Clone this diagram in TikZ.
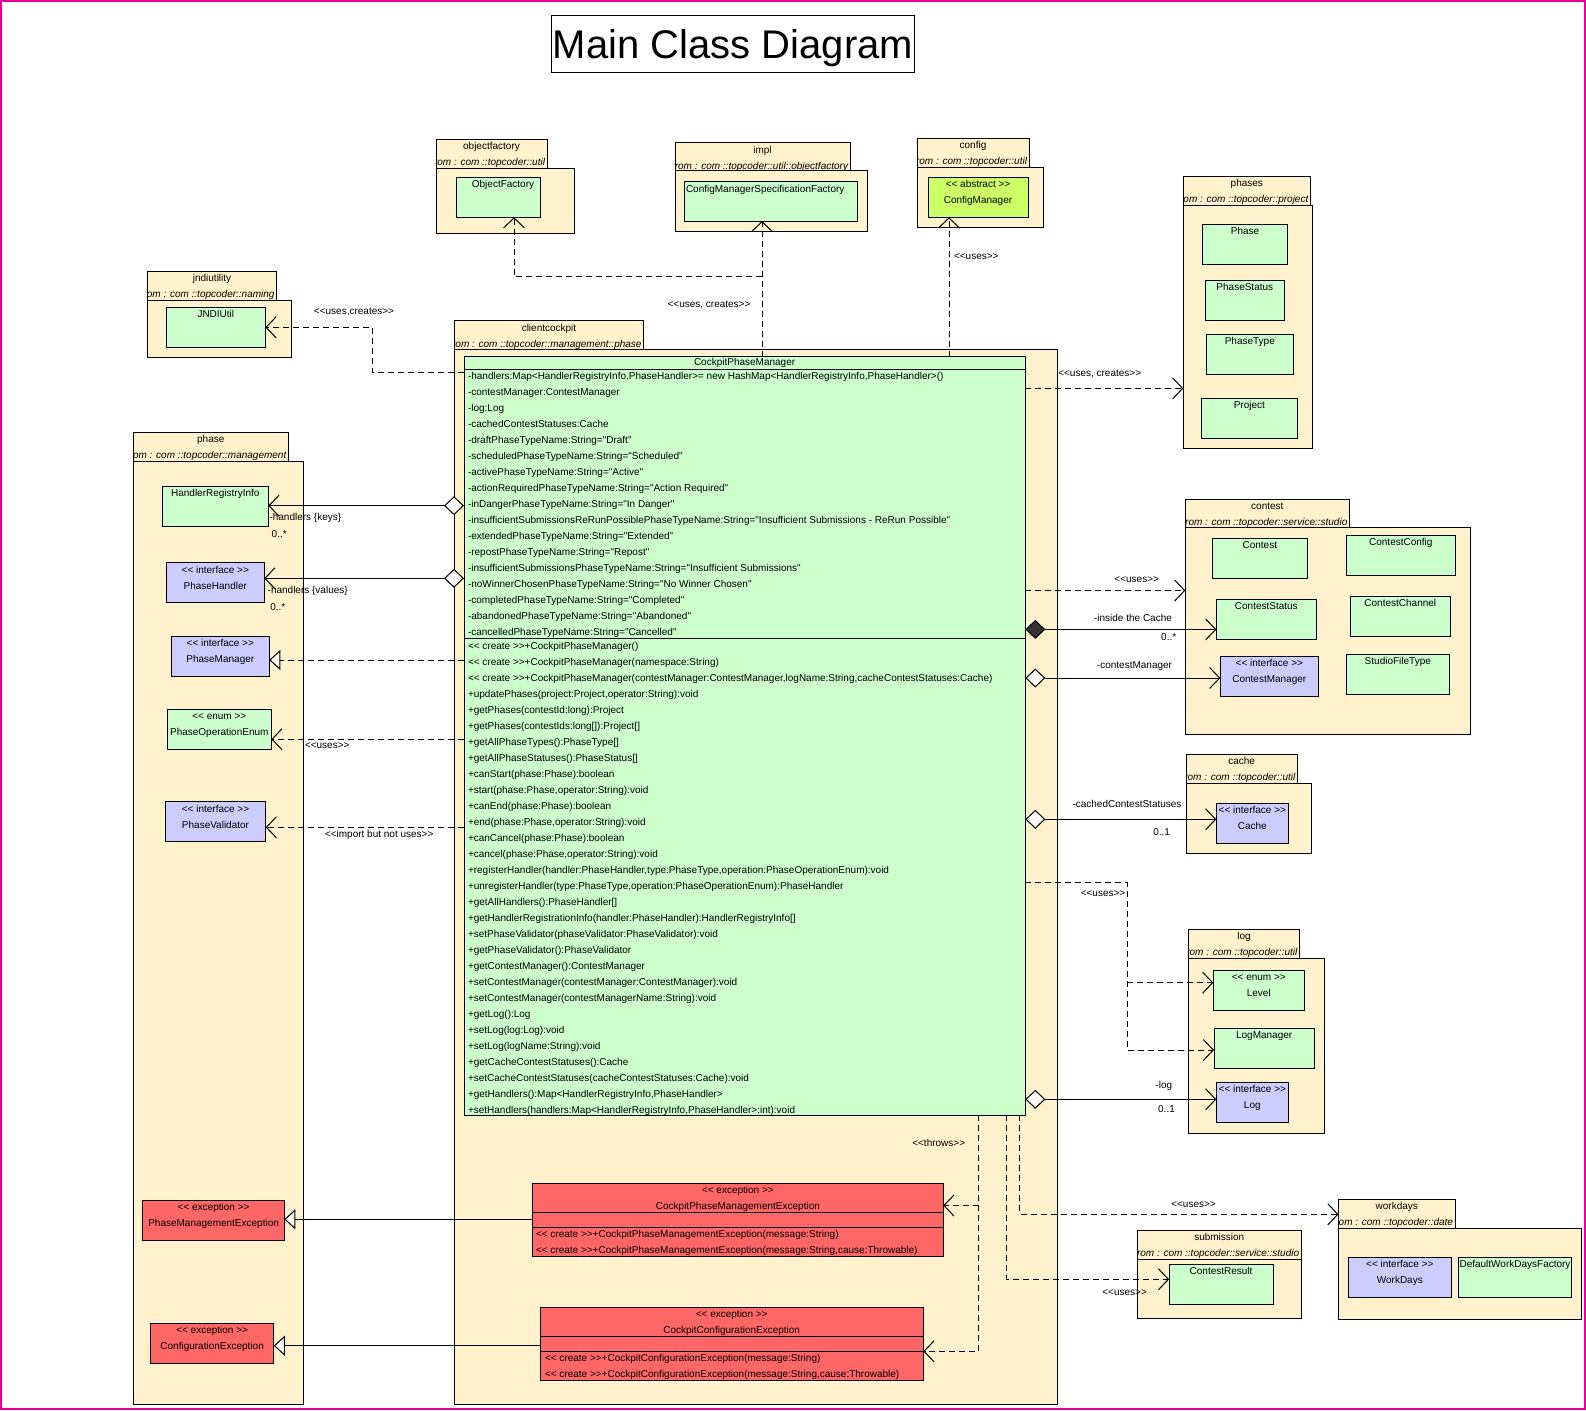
\documentclass[tikz,border=0pt]{standalone}
\usepackage{fontspec}
\newfontfamily\umlfont{Liberation Sans}
\usetikzlibrary{arrows.meta}
\definecolor{pkgc}{RGB}{255,242,204}
\definecolor{clsc}{RGB}{204,255,204}
\definecolor{ifcc}{RGB}{204,204,255}
\definecolor{excc}{RGB}{255,102,102}
\definecolor{absc}{RGB}{204,255,102}
\definecolor{framec}{RGB}{230,0,150}
\tikzset{
  every node/.style={font=\umlfont\fontsize{10}{12}\selectfont, inner sep=0pt, outer sep=0pt},
  txt/.style={text height=7.5pt, text depth=1.5pt},
  itxt/.style={txt, font=\umlfont\itshape\fontsize{10}{12}\selectfont},
  box/.style={draw=black, line width=1pt, inner sep=0pt, outer sep=0pt},
  pkgbox/.style={box, fill=pkgc},
  clsbox/.style={box, fill=clsc},
  ifcbox/.style={box, fill=ifcc},
  excbox/.style={box, fill=excc},
  absbox/.style={box, fill=absc},
  conn/.style={line width=1pt},
  dline/.style={conn, dash pattern=on 6pt off 4pt},
  dep/.style={dline, -{Straight Barb[length=10pt,width=21pt]}},
  agg/.style={conn, {Diamond[length=20pt,width=19pt,fill=white]}-{Straight Barb[length=10pt,width=21pt]}},
  comp/.style={conn, {Diamond[length=20pt,width=19pt,fill=black!80]}-{Straight Barb[length=10pt,width=21pt]}},
  real/.style={dline, -{Triangle[length=11pt,width=20pt,fill=white]}},
  gen/.style={conn, -{Triangle[length=11pt,width=20pt,fill=white]}},
}
% package: name, x1, tab top, tab x2, body top, body x2, body bottom, title, from
\newcommand\umlpkg[9]{%
  \node[pkgbox, anchor=north west, minimum width={#4-#2}, minimum height={#5-#3}] (#1tab) at (#2,#3) {};
  \node[pkgbox, anchor=north west, minimum width={#6-#2}, minimum height={#7-#5}] (#1) at (#2,#5) {};
  \node[txt] (#1title) at ({(#2+#4)/2},{#3+7.5}) {#8};
  \begin{scope}
    \clip (#2+0.5,#3) rectangle (#4-0.5,#5);
    \node[itxt, anchor=east] (#1from) at ({#4-2},{#3+23.5}) {#9};
  \end{scope}
}
% class with name only: style, name, x1, y1, x2, y2, text
\newcommand\umlcls[7]{%
  \node[#1, anchor=north west, minimum width={#5-#3}, minimum height={#6-#4}] (#2) at (#3,#4) {};
  \node[txt] (#2name) at ({(#3+#5)/2},{#4+7.3}) {#7};
}
% class with stereotype
\newcommand\umlscls[8]{%
  \node[#1, anchor=north west, minimum width={#5-#3}, minimum height={#6-#4}] (#2) at (#3,#4) {};
  \node[txt] (#2st) at ({(#3+#5)/2},{#4+7.3}) {#7};
  \node[txt] (#2name) at ({(#3+#5)/2},{#4+23.3}) {#8};
}
\newcounter{umllbl}
\newcommand\umllbl[3]{\stepcounter{umllbl}\node[txt] (lbl\arabic{umllbl}) at (#1,#2) {#3};}
\newcommand\umllblw[3]{\stepcounter{umllbl}\node[txt, anchor=west] (lbl\arabic{umllbl}) at (#1,#2) {#3};}
\begin{document}
\begin{tikzpicture}[x=1pt,y=-1pt]
\useasboundingbox (0,0) rectangle (1586,1410);
\fill[white] (0,0) rectangle (1586,1410);
\draw[framec, line width=2pt] (1,1) rectangle (1585,1409);

% title
\node[draw=black, line width=1pt, anchor=north west, minimum width=362.6pt, minimum height=56.7pt] (titlebox) at (551.7,16) {};
\node[font=\umlfont\fontsize{40}{44}\selectfont, text height=29pt, text depth=0pt] (title) at (titlebox.center) {Main Class Diagram};

% packages
\umlpkg{pof}{436}{139.3}{547}{168}{574}{233.3}{objectfactory}{from : com ::topcoder::util}
\umlpkg{pimpl}{675}{142.7}{850}{170.7}{867}{231}{impl}{from : com ::topcoder::util::objectfactory}
\umlpkg{pcfg}{917}{138.3}{1029}{167.3}{1043}{227.7}{config}{from : com ::topcoder::util}
\umlpkg{pjndi}{147.6}{271.3}{276.5}{300}{291}{357.3}{jndiutility}{from : com ::topcoder::naming}
\umlpkg{pcc}{454.5}{320.7}{643.5}{349}{1057.3}{1404}{clientcockpit}{from : com ::topcoder::management::phase}
\umlpkg{pph}{133.3}{432.3}{288.3}{461}{303.5}{1404}{phase}{from : com ::topcoder::management}
\umlpkg{pphs}{1183.3}{176.1}{1310.3}{205.2}{1312.3}{448.2}{phases}{from : com ::topcoder::project}
\umlpkg{pcon}{1185.3}{499.2}{1349.3}{527.6}{1470.6}{734}{contest}{from : com ::topcoder::service::studio}
\umlpkg{pcache}{1186}{754.3}{1297.3}{783.3}{1311.3}{853.3}{cache}{from : com ::topcoder::util}
\umlpkg{plog}{1188.7}{929.3}{1299.3}{958}{1324}{1133.8}{log}{from : com ::topcoder::util}
\umlpkg{psub}{1137.4}{1230.3}{1301.1}{1259}{1301.1}{1318}{submission}{from : com ::topcoder::service::studio}
\umlpkg{pwd}{1338.5}{1199}{1455}{1228}{1581}{1319}{workdays}{from : com ::topcoder::date}

% classes
\node[clsbox, anchor=north west, minimum width=84pt, minimum height=40pt] (of) at (456,177.3) {};
\node[txt] (ofname) at (503,184.8) {ObjectFactory};
\node[clsbox, anchor=north west, minimum width=172.5pt, minimum height=40pt] (cmsf) at (684.5,181) {};
\node[txt, anchor=west] (cmsfname) at (686,189.3) {ConfigManagerSpecificationFactory};
\umlscls{absbox}{cfgm}{928}{177.3}{1028}{217.3}{<< abstract >>}{ConfigManager}
\umlcls{clsbox}{jndi}{166.3}{307.3}{265.4}{347.3}{JNDIUtil}
\umlcls{clsbox}{hri}{162.3}{486.3}{268.3}{526.3}{HandlerRegistryInfo}
\umlscls{ifcbox}{phh}{166.3}{562.7}{264.3}{602.3}{<< interface >>}{PhaseHandler}
\umlscls{ifcbox}{phm}{171.3}{636.3}{269.3}{676.3}{<< interface >>}{PhaseManager}
\umlscls{clsbox}{poe}{167.3}{709.3}{271.3}{749.3}{<< enum >>}{PhaseOperationEnum}
\umlscls{ifcbox}{phv}{165.3}{801.7}{265.7}{841.7}{<< interface >>}{PhaseValidator}
\umlscls{excbox}{pme}{142.9}{1200.3}{284.3}{1240.3}{<< exception >>}{PhaseManagementException}
\umlscls{excbox}{ce}{150.5}{1323.3}{273.8}{1363.3}{<< exception >>}{ConfigurationException}
\umlcls{clsbox}{ph}{1202.3}{224.4}{1287.7}{264.3}{Phase}
\umlcls{clsbox}{phst}{1205.3}{280.2}{1284.3}{320.4}{PhaseStatus}
\umlcls{clsbox}{phty}{1206.3}{334.3}{1293.3}{374.2}{PhaseType}
\umlcls{clsbox}{proj}{1201.3}{398.5}{1297.3}{438.4}{Project}
\umlcls{clsbox}{ctst}{1212.3}{538.4}{1307.3}{578.3}{Contest}
\umlcls{clsbox}{ccfg}{1346.3}{535.4}{1455.3}{575.3}{ContestConfig}
\umlcls{clsbox}{cst}{1216.3}{599.3}{1316.3}{639.2}{ContestStatus}
\umlcls{clsbox}{cch}{1350.3}{596.2}{1450.3}{636.5}{ContestChannel}
\umlscls{ifcbox}{ctm}{1220.3}{656.4}{1318.3}{696}{<< interface >>}{ContestManager}
\umlcls{clsbox}{sft}{1346.3}{654.4}{1449.3}{694.3}{StudioFileType}
\umlscls{ifcbox}{cachec}{1216.3}{803.3}{1288.3}{843.3}{<< interface >>}{Cache}
\umlscls{clsbox}{lvl}{1213.3}{970}{1304.3}{1010}{<< enum >>}{Level}
\umlcls{clsbox}{lmg}{1214}{1028.3}{1314.3}{1068.3}{LogManager}
\umlscls{ifcbox}{logc}{1216.3}{1082.3}{1288.3}{1122}{<< interface >>}{Log}
\umlcls{clsbox}{cres}{1169.1}{1264.3}{1273}{1304.3}{ContestResult}
\umlscls{ifcbox}{wd}{1348.3}{1257.3}{1451.3}{1297.3}{<< interface >>}{WorkDays}
\umlcls{clsbox}{dwdf}{1458.3}{1257.3}{1571.7}{1297.3}{DefaultWorkDaysFactory}

% CockpitPhaseManager
\node[clsbox, anchor=north west, minimum width=561.3pt, minimum height=758.6pt] (cpm) at (464,356.7) {};
\draw[conn] (cpm.west |- 0,369) -- (cpm.east |- 0,369);
\draw[conn] (cpm.west |- 0,638.3) -- (cpm.east |- 0,638.3);
\node[txt] (cpmname) at (744.6,362.8) {CockpitPhaseManager};
\foreach \t [count=\i from 0] in {
 {-handlers:Map<HandlerRegistryInfo,PhaseHandler>= new HashMap<HandlerRegistryInfo,PhaseHandler>()},
 {-contestManager:ContestManager},
 {-log:Log},
 {-cachedContestStatuses:Cache},
 {-draftPhaseTypeName:String="Draft"},
 {-scheduledPhaseTypeName:String="Scheduled"},
 {-activePhaseTypeName:String="Active"},
 {-actionRequiredPhaseTypeName:String="Action Required"},
 {-inDangerPhaseTypeName:String="In Danger"},
 {-insufficientSubmissionsReRunPossiblePhaseTypeName:String="Insufficient Submissions - ReRun Possible"},
 {-extendedPhaseTypeName:String="Extended"},
 {-repostPhaseTypeName:String="Repost"},
 {-insufficientSubmissionsPhaseTypeName:String="Insufficient Submissions"},
 {-noWinnerChosenPhaseTypeName:String="No Winner Chosen"},
 {-completedPhaseTypeName:String="Completed"},
 {-abandonedPhaseTypeName:String="Abandoned"},
 {-cancelledPhaseTypeName:String="Cancelled"}}
 { \node[txt, anchor=west] (cpma\i) at (468,{376.7+16*\i}) {\t}; }
\foreach \t [count=\i from 0] in {
 {<< create >>+CockpitPhaseManager()},
 {<< create >>+CockpitPhaseManager(namespace:String)},
 {<< create >>+CockpitPhaseManager(contestManager:ContestManager,logName:String,cacheContestStatuses:Cache)},
 {+updatePhases(project:Project,operator:String):void},
 {+getPhases(contestId:long):Project},
 {+getPhases(contestIds:long[]):Project[]},
 {+getAllPhaseTypes():PhaseType[]},
 {+getAllPhaseStatuses():PhaseStatus[]},
 {+canStart(phase:Phase):boolean},
 {+start(phase:Phase,operator:String):void},
 {+canEnd(phase:Phase):boolean},
 {+end(phase:Phase,operator:String):void},
 {+canCancel(phase:Phase):boolean},
 {+cancel(phase:Phase,operator:String):void},
 {+registerHandler(handler:PhaseHandler,type:PhaseType,operation:PhaseOperationEnum):void},
 {+unregisterHandler(type:PhaseType,operation:PhaseOperationEnum):PhaseHandler},
 {+getAllHandlers():PhaseHandler[]},
 {+getHandlerRegistrationInfo(handler:PhaseHandler):HandlerRegistryInfo[]},
 {+setPhaseValidator(phaseValidator:PhaseValidator):void},
 {+getPhaseValidator():PhaseValidator},
 {+getContestManager():ContestManager},
 {+setContestManager(contestManager:ContestManager):void},
 {+setContestManager(contestManagerName:String):void},
 {+getLog():Log},
 {+setLog(log:Log):void},
 {+setLog(logName:String):void},
 {+getCacheContestStatuses():Cache},
 {+setCacheContestStatuses(cacheContestStatuses:Cache):void},
 {+getHandlers():Map<HandlerRegistryInfo,PhaseHandler>},
 {+setHandlers(handlers:Map<HandlerRegistryInfo,PhaseHandler>:int):void}}
 { \node[txt, anchor=west] (cpmm\i) at (468,{646.3+16*\i}) {\t}; }

% exceptions in clientcockpit
\node[excbox, anchor=north west, minimum width=410.7pt, minimum height=73pt] (cpme) at (532.5,1183.3) {};
\draw[conn] (cpme.west |- 0,1212.7) -- (cpme.east |- 0,1212.7);
\draw[conn] (cpme.west |- 0,1227.3) -- (cpme.east |- 0,1227.3);
\node[txt] (cpmest) at (737.9,1190.7) {<< exception >>};
\node[txt] (cpmename) at (737.9,1206.7) {CockpitPhaseManagementException};
\node[txt, anchor=west] (cpmem1) at (536,1234.7) {<< create >>+CockpitPhaseManagementException(message:String)};
\node[txt, anchor=west] (cpmem2) at (536,1250.7) {<< create >>+CockpitPhaseManagementException(message:String,cause:Throwable)};

\node[excbox, anchor=north west, minimum width=383.2pt, minimum height=73pt] (cce) at (540.1,1307.3) {};
\draw[conn] (cce.west |- 0,1336.7) -- (cce.east |- 0,1336.7);
\draw[conn] (cce.west |- 0,1351.3) -- (cce.east |- 0,1351.3);
\node[txt] (ccest) at (731.7,1314.7) {<< exception >>};
\node[txt] (ccename) at (731.7,1330.7) {CockpitConfigurationException};
\node[txt, anchor=west] (ccem1) at (545,1358.7) {<< create >>+CockpitConfigurationException(message:String)};
\node[txt, anchor=west] (ccem2) at (545,1374.7) {<< create >>+CockpitConfigurationException(message:String,cause:Throwable)};

% ---------- connectors ----------
% top
\coordinate (jb) at (372.7,372.3);
\draw[dep] (cpm.west |- jb) -- (jb) |- (jndi.east);
\coordinate (ximp) at (762,276.7);
\draw[dep] (cpm.north -| ximp) -- (cmsf.south -| ximp);
\draw[dep] (ximp) -| (of.south -| 514,0);
\draw[dep] (cpm.north -| 949,0) -- (cfgm.south -| 949,0);
\draw[dep] (cpm.east |- 0,388.4) -- (pphs.west |- 0,388.4);
% left
\draw[agg] (cpm.west |- 0,505.7) -- (hri.east |- 0,505.7);
\draw[agg] (cpm.west |- 0,578.3) -- (phh.east |- 0,578.3);
\draw[real] (cpm.west |- 0,660) -- (phm.east |- 0,660);
\draw[dep] (cpm.west |- 0,739.3) -- (poe.east |- 0,739.3);
\draw[dep] (cpm.west |- 0,827.3) -- (phv.east |- 0,827.3);
% right
\draw[dep] (cpm.east |- 0,590.5) -- (pcon.west |- 0,590.5);
\draw[comp] (cpm.east |- 0,629.4) -- (cst.west |- 0,629.4);
\draw[agg] (cpm.east |- 0,678) -- (ctm.west |- 0,678);
\draw[agg] (cpm.east |- 0,819.3) -- (cachec.west |- 0,819.3);
\coordinate (lu1) at (1127.3,882.7);
\coordinate (lu2) at (1127.3,1050);
\coordinate (lu3) at (1127.3,982.7);
\draw[dep] (cpm.east |- lu1) -- (lu1) -- (lu2) -- (lmg.west |- lu2);
\draw[dep] (lu3) -- (lvl.west |- lu3);
\draw[agg] (cpm.east |- 0,1099.3) -- (logc.west |- 0,1099.3);
% bottom
\coordinate (t1) at (978.6,1205.5);
\coordinate (t2) at (978.6,1351.3);
\draw[dep] (cpm.south -| t1) -- (t2) -- (cce.east |- t2);
\draw[dep] (t1) -- (cpme.east |- t1);
\coordinate (s1) at (1006.5,1279.3);
\draw[dep] (cpm.south -| s1) -- (s1) -- (cres.west |- s1);
\coordinate (w1) at (1019.5,1214.3);
\draw[dep] (cpm.south -| w1) -- (w1) -- (pwdtab.west |- w1);
\draw[gen] (cpme.west |- 0,1219.3) -- (pme.east |- 0,1219.3);
\draw[gen] (cce.west |- 0,1345.7) -- (ce.east |- 0,1345.7);

% ---------- labels ----------
\umllbl{354}{311}{<<uses,creates>>}
\umllbl{709}{304}{<<uses, creates>>}
\umllblw{954}{256.7}{<<uses>>}
\umllblw{1058.3}{373.5}{<<uses, creates>>}
\umllblw{269.5}{517}{-handlers \{keys\}}
\umllblw{271.7}{534.3}{0..*}
\umllblw{267.7}{590}{-handlers \{values\}}
\umllblw{270.3}{607.3}{0..*}
\umllblw{305}{745.3}{<<uses>>}
\umllblw{325}{834.7}{<<import but not uses>>}
\umllbl{1136.7}{579.7}{<<uses>>}
\umllbl{1133}{618.5}{-inside the Cache}
\umllbl{1168.7}{637.8}{0..*}
\umllbl{1134.5}{665.9}{-contestManager}
\umllbl{1127}{804.3}{-cachedContestStatuses}
\umllbl{1161.7}{832.7}{0..1}
\umllbl{1103}{893.3}{<<uses>>}
\umllbl{1163.8}{1085}{-log}
\umllbl{1166.5}{1109.3}{0..1}
\umllbl{938.7}{1143.3}{<<throws>>}
\umllbl{1193.5}{1204.7}{<<uses>>}
\umllbl{1124.6}{1292.7}{<<uses>>}
\end{tikzpicture}
\end{document}
